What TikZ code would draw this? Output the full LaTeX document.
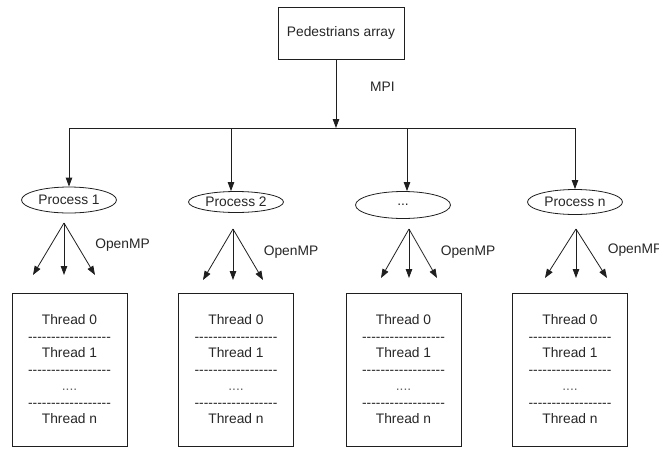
\documentclass[tikz,border=0pt]{standalone}
\usepackage{fontspec}
\setmainfont{Liberation Sans}
\usetikzlibrary{arrows.meta,shapes.geometric}

% a row of separate hyphens (kerned so they never join into dashes)
\newcommand\dashrow{\foreach \i in {1,...,18}{-\kern0pt}}
\newcommand\threedots{...}

\tikzset{
  ink/.style={draw=black!88, line width=0.8pt},
  tip/.style={ink, -{Triangle[length=9pt,width=6.5pt]}},
  srcbox/.style={ink, rectangle, minimum width=126pt, minimum height=52pt, inner sep=0pt},
  proc/.style={ink, ellipse, minimum width=95pt, inner sep=0pt},
  threads/.style={ink, rectangle, minimum width=115pt, minimum height=153pt,
                  align=center, inner sep=0pt},
  lbl/.style={inner sep=0pt}
}

\begin{document}
\begin{tikzpicture}[x=1pt, y=-1pt, font=\fontsize{13.8}{16.5}\selectfont, text=black!85]
\useasboundingbox (0,0) rectangle (659,448);

% source array and MPI scatter
\node[srcbox] (src) at (341,33) {Pedestrians array};
\coordinate (bus) at (336,128);
\draw[tip] (src.south -| bus) -- (bus);
\node[lbl] (mpi) at (382.5,87) {MPI};

\coordinate (busL) at (69,128);
\coordinate (busR) at (575,128);
\draw[ink] (busL) -- (busR);

% processes: name / ellipse x,y,height / text / drop x / apex x,y / arrow end y / spread / OpenMP x,y / box x
\foreach \n/\ex/\ey/\eh/\txt/\dx/\ax/\ay/\ty/\sp/\ox/\oy/\bx in {
   1/69/200/26/Process 1/69/64/223/275/31/122.5/245/69.5,
   2/236/202/21/Process 2/231/233/229/280/30/291/252/236,
   3/403/205/27/\threedots/407/409/229/278/28/468/252/403.5,
   4/575/202/25/Process n/575/576/229/278/31/635/250/570}{
  \node[proc, minimum height=\eh pt] (p\n) at (\ex,\ey) {\txt};
  \coordinate (d\n) at (\dx,128);
  \draw[tip] (d\n) -- (d\n |- p\n.north);

  \coordinate (apex\n) at (\ax,\ay);
  \coordinate (tl\n) at (\ax-\sp,\ty);
  \coordinate (tm\n) at (\ax,\ty);
  \coordinate (tr\n) at (\ax+\sp,\ty);
  \draw[tip] (apex\n) -- (tl\n);
  \draw[tip] (apex\n) -- (tm\n);
  \draw[tip] (apex\n) -- (tr\n);
  \node[lbl] (omp\n) at (\ox,\oy) {OpenMP};

  \node[threads] (t\n) at (\bx,369.5)
    {Thread 0\\\dashrow\\Thread 1\\\dashrow\\{\color{black!60}....}\\\dashrow\\Thread n};
}
\end{tikzpicture}
\end{document}
